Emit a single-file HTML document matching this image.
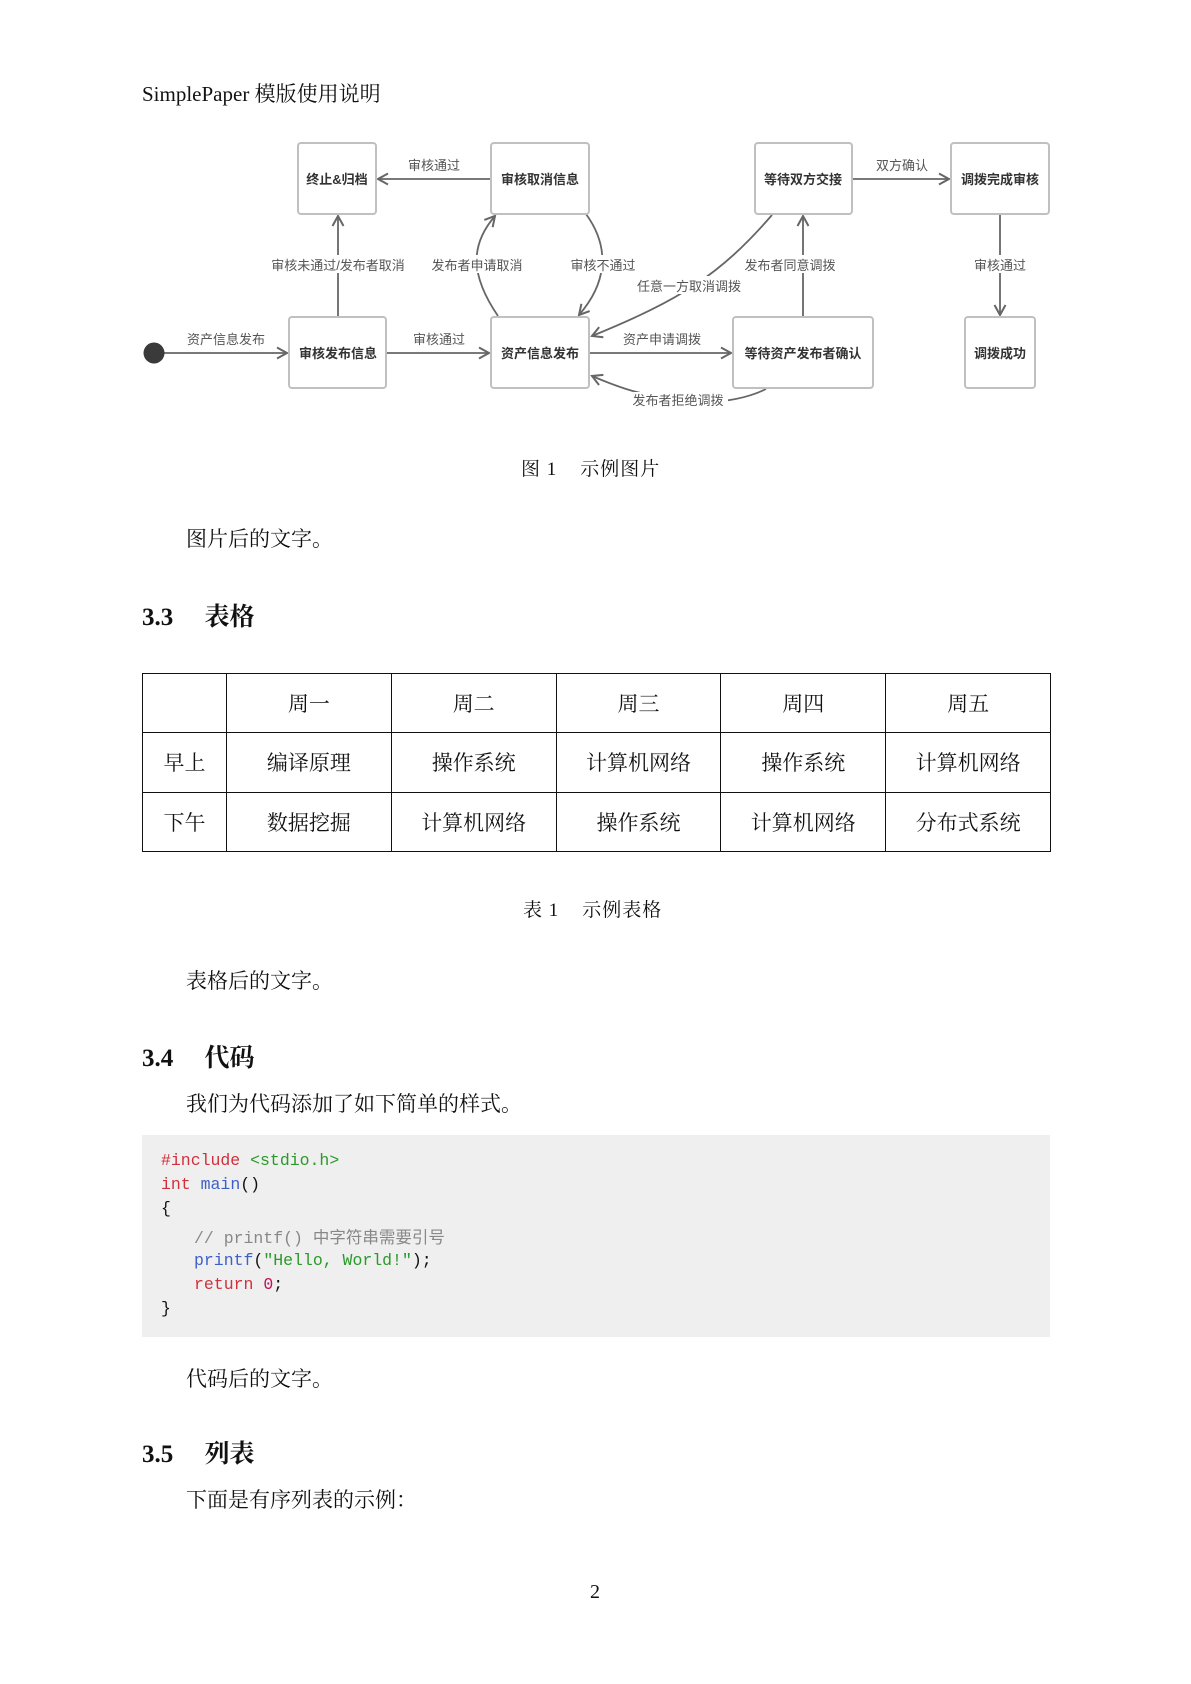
<!DOCTYPE html>
<html><head><meta charset="utf-8"><style>
body{margin:0;background:#fff;}
#p{position:relative;width:1191px;height:1684px;overflow:hidden;font-family:"Liberation Serif","Noto Serif CJK SC",serif;color:#111;}
.t{position:absolute;white-space:nowrap;}
.b{font-size:21px;}
h2{position:absolute;margin:0;font-size:25px;font-weight:bold;white-space:nowrap;}
table{position:absolute;left:142px;top:673px;width:909px;height:179px;border-collapse:collapse;font-size:21px;table-layout:fixed;}
td{border:1.6px solid #111;text-align:center;padding:0;}
.code{position:absolute;left:142px;top:1135px;width:908px;height:202px;background:#efefef;}
.cl{position:absolute;font-family:"Liberation Mono","Noto Sans CJK SC",monospace;font-size:16.5px;white-space:pre;color:#111;}
</style></head><body><div id="p">
<div class="t" style="left:142px;top:78px;font-size:21px;">SimplePaper 模版使用说明</div>

<svg style="position:absolute;left:0;top:0" width="1191" height="460" font-family="Liberation Sans,Noto Sans CJK SC,sans-serif">
<defs><marker id="a" markerWidth="14" markerHeight="14" refX="11" refY="7" orient="auto" markerUnits="userSpaceOnUse"><path d="M1,1.5 L11,7 L1,12.5" fill="none" stroke="#666" stroke-width="2"/></marker></defs>
<g stroke="#666" stroke-width="1.8" fill="none">
<line x1="160" y1="353" x2="287" y2="353" marker-end="url(#a)"/>
<line x1="386" y1="353" x2="489" y2="353" marker-end="url(#a)"/>
<line x1="589" y1="353" x2="731" y2="353" marker-end="url(#a)"/>
<line x1="338" y1="317" x2="338" y2="216" marker-end="url(#a)"/>
<line x1="491" y1="179" x2="378" y2="179" marker-end="url(#a)"/>
<path d="M498,316 C470,275 470,245 495,216" marker-end="url(#a)"/>
<path d="M586,214 C612,250 605,285 579,315" marker-end="url(#a)"/>
<path d="M772,215 C720,275 680,300 592,336" marker-end="url(#a)"/>
<line x1="803" y1="317" x2="803" y2="216" marker-end="url(#a)"/>
<line x1="852" y1="179" x2="949" y2="179" marker-end="url(#a)"/>
<line x1="1000" y1="214" x2="1000" y2="315" marker-end="url(#a)"/>
<path d="M766,389 C740,402 700,405 680,400 C640,395 620,388 592,376" marker-end="url(#a)"/>
</g>
<circle cx="154" cy="353" r="10.5" fill="#3a3a3a"/>
<g fill="#fff" stroke="#c0c0c0" stroke-width="2">
<rect x="298" y="143" width="78" height="71" rx="3"/>
<rect x="491" y="143" width="98" height="71" rx="3"/>
<rect x="755" y="143" width="97" height="71" rx="3"/>
<rect x="951" y="143" width="98" height="71" rx="3"/>
<rect x="289" y="317" width="97" height="71" rx="3"/>
<rect x="491" y="317" width="98" height="71" rx="3"/>
<rect x="733" y="317" width="140" height="71" rx="3"/>
<rect x="965" y="317" width="70" height="71" rx="3"/>
</g>
<g font-size="13" font-weight="bold" fill="#333" text-anchor="middle">
<text x="337" y="184">终止&amp;归档</text>
<text x="540" y="184">审核取消信息</text>
<text x="803" y="184">等待双方交接</text>
<text x="1000" y="184">调拨完成审核</text>
<text x="338" y="358">审核发布信息</text>
<text x="540" y="358">资产信息发布</text>
<text x="803" y="358">等待资产发布者确认</text>
<text x="1000" y="358">调拨成功</text>
</g>
<g font-size="13" fill="#555" text-anchor="middle">
<rect x="262" y="255" width="152" height="18" fill="#fff"/>
<text x="338" y="270">审核未通过/发布者取消</text>
<rect x="428" y="255" width="100" height="18" fill="#fff"/>
<text x="477" y="270">发布者申请取消</text>
<rect x="567" y="255" width="72" height="18" fill="#fff"/>
<text x="603" y="270">审核不通过</text>
<rect x="633" y="276" width="112" height="18" fill="#fff"/>
<text x="689" y="291">任意一方取消调拨</text>
<rect x="740" y="255" width="100" height="18" fill="#fff"/>
<text x="790" y="270">发布者同意调拨</text>
<rect x="970" y="255" width="60" height="18" fill="#fff"/>
<text x="1000" y="270">审核通过</text>
<text x="226" y="344">资产信息发布</text>
<text x="439" y="344">审核通过</text>
<text x="662" y="344">资产申请调拨</text>
<text x="434" y="170">审核通过</text>
<text x="902" y="170">双方确认</text>
<rect x="628" y="392" width="100" height="17" fill="#fff"/>
<text x="678" y="405">发布者拒绝调拨</text>
</g>
</svg>

<div class="t" style="left:521px;top:454px;font-size:19px;letter-spacing:1px;">图 1&nbsp;&nbsp;&nbsp;&nbsp;示例图片</div>
<div class="t b" style="left:186px;top:523px;">图片后的文字。</div>
<h2 style="left:142px;top:597px;">3.3&nbsp;&nbsp;&nbsp;&nbsp;&nbsp;表格</h2>
<table>
<colgroup><col style="width:84px"><col><col><col><col><col></colgroup>
<tr><td></td><td>周一</td><td>周二</td><td>周三</td><td>周四</td><td>周五</td></tr>
<tr><td>早上</td><td>编译原理</td><td>操作系统</td><td>计算机网络</td><td>操作系统</td><td>计算机网络</td></tr>
<tr><td>下午</td><td>数据挖掘</td><td>计算机网络</td><td>操作系统</td><td>计算机网络</td><td>分布式系统</td></tr>
</table>
<div class="t" style="left:523px;top:895px;font-size:19px;letter-spacing:1px;">表 1&nbsp;&nbsp;&nbsp;&nbsp;示例表格</div>
<div class="t b" style="left:186px;top:965px;">表格后的文字。</div>
<h2 style="left:142px;top:1038px;">3.4&nbsp;&nbsp;&nbsp;&nbsp;&nbsp;代码</h2>
<div class="t b" style="left:186px;top:1088px;">我们为代码添加了如下简单的样式。</div>
<div class="code">
<div class="cl" style="left:19px;top:16px;"><span style="color:#d0303c">#include</span> <span style="color:#2a9a2a">&lt;stdio.h&gt;</span></div>
<div class="cl" style="left:19px;top:40px;"><span style="color:#d0303c">int</span> <span style="color:#3d5fc8">main</span>()</div>
<div class="cl" style="left:19px;top:64px;">{</div>
<div class="cl" style="left:52px;top:89px;color:#888">// printf() 中字符串需要引号</div>
<div class="cl" style="left:52px;top:116px;"><span style="color:#3d5fc8">printf</span>(<span style="color:#2a9a2a">"Hello, World!"</span>);</div>
<div class="cl" style="left:52px;top:140px;"><span style="color:#d0303c">return</span> <span style="color:#c0105a">0</span>;</div>
<div class="cl" style="left:19px;top:164px;">}</div>
</div>
<div class="t b" style="left:186px;top:1363px;">代码后的文字。</div>
<h2 style="left:142px;top:1434px;">3.5&nbsp;&nbsp;&nbsp;&nbsp;&nbsp;列表</h2>
<div class="t b" style="left:186px;top:1484px;">下面是有序列表的示例：</div>
<div class="t" style="left:590px;top:1581px;font-size:20px;">2</div>
</div></body></html>
